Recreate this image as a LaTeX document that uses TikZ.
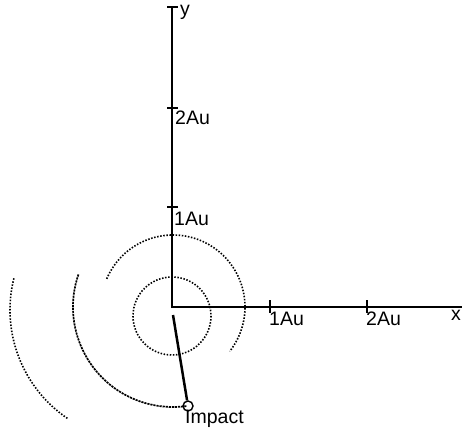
\documentclass[tikz,border=0pt]{standalone}
\usepackage{fontspec}
\setmainfont{Liberation Sans}
\begin{document}
\begin{tikzpicture}[x=1pt,y=-1pt,
  axis/.style={line width=2.5pt},
  tickmark/.style={line width=1.3pt},
  orbit/.style={line width=1.6pt, dash pattern=on 1.5pt off 1.6pt},
  orbitdense/.style={line width=1.7pt, dash pattern=on 2.2pt off 0.9pt},
  lbl/.style={font=\fontsize{19.5}{19.5}\selectfont, inner sep=0pt, anchor=base west}]
\clip (0,0) rectangle (462,430);
\useasboundingbox (0,0) rectangle (462,430);
\fill[white] (0,0) rectangle (462,430);
% key points
\coordinate (O) at (173,307);
\coordinate (xend) at (462,307);
\coordinate (yend) at (172,7);
\coordinate (ctin) at (172,316);
\coordinate (ctleft) at (141,310);
% axes
\draw[axis] (O) -- (xend);
\draw[axis] (172,308) -- (yend);
% ticks
\draw[tickmark] (270,300) -- (270,313);
\draw[tickmark] (367,300) -- (367,313);
\draw[tickmark] (167,207) -- (178,207);
\draw[tickmark] (167,108) -- (178,108);
\draw[tickmark] (167,7) -- (178,7);
% labels
\node[lbl] (lx1) at (269,325) {1Au};
\node[lbl] (lx2) at (366,325) {2Au};
\node[lbl] (xl) at (451,320) {x};
\node[lbl] (ly1) at (174,225) {1Au};
\node[lbl] (ly2) at (175,125) {2Au};
\node[lbl] (yl) at (180,16) {y};
% orbits
\draw[orbit] (ctin) circle[radius=39];
\draw[orbit] (O) ++(-157:72) arc[start angle=-157, end angle=38, radius=72];
\draw[orbitdense] (O) ++(-161:100) arc[start angle=-161, end angle=-278, radius=100];
\draw[orbit] (ctleft) ++(-166:131) arc[start angle=-166, end angle=-236, radius=131];
% impact
\node[draw, circle, line width=1.4pt, minimum size=10pt, inner sep=0pt] (imp) at (188,406) {};
\coordinate (lstart) at (173,315);
\draw[line width=2.5pt] (lstart) -- (imp);
\node[lbl] (impl) at (185,423) {Impact};
\end{tikzpicture}
\end{document}
